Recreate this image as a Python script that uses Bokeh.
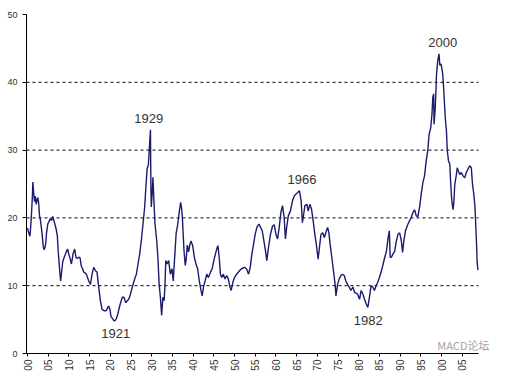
import math
from bokeh.plotting import figure
from bokeh.models import Range1d, FixedTicker, Label, ColumnDataSource
from bokeh.core.properties import value
from bokeh.embed import file_html
from bokeh.resources import INLINE

# ---- data ----
years = [
    1900.0, 1900.3, 1900.6, 1900.8, 1901.0, 1901.2, 1901.3, 1901.5, 1901.7, 1901.9,
    1902.1, 1902.3, 1902.5, 1902.7, 1902.9, 1903.1, 1903.4, 1903.6, 1903.8, 1904.0,
    1904.2, 1904.4, 1904.6, 1904.9, 1905.2, 1905.5, 1905.8, 1906.1, 1906.3, 1906.6,
    1906.9, 1907.2, 1907.4, 1907.6, 1907.8, 1908.0, 1908.2, 1908.5, 1908.8, 1909.2,
    1909.5, 1909.7, 1910.0, 1910.3, 1910.6, 1910.8, 1911.0, 1911.4, 1911.7, 1912.0,
    1912.4, 1912.7, 1913.0, 1913.3, 1913.6, 1913.9, 1914.2, 1914.5, 1914.8, 1915.2,
    1915.6, 1916.0, 1916.4, 1916.8, 1917.2, 1917.6, 1918.0, 1918.3, 1918.6, 1919.0,
    1919.4, 1919.6, 1919.9, 1920.2, 1920.5, 1920.9, 1921.2, 1921.5, 1921.8, 1922.1,
    1922.4, 1922.9, 1923.3, 1923.7, 1924.2, 1924.6, 1924.9, 1925.4, 1926.0, 1926.3,
    1926.7, 1927.1, 1927.5, 1927.9, 1928.3, 1928.6, 1928.9, 1929.2, 1929.5, 1929.7,
    1929.8, 1929.9, 1930.1, 1930.3, 1930.5, 1930.8, 1931.2, 1931.5, 1931.8, 1932.1,
    1932.4, 1932.7, 1933.0, 1933.2, 1933.4, 1933.7, 1934.1, 1934.5, 1934.9, 1935.2,
    1935.5, 1935.9, 1936.3, 1936.7, 1937.0, 1937.2, 1937.4, 1937.8, 1938.1, 1938.3,
    1938.6, 1938.9, 1939.2, 1939.5, 1939.9, 1940.3, 1940.7, 1941.1, 1941.5, 1941.9,
    1942.2, 1942.5, 1942.9, 1943.3, 1943.7, 1944.2, 1944.6, 1945.0, 1945.4, 1945.8,
    1946.0, 1946.3, 1946.6, 1946.9, 1947.3, 1947.7, 1948.1, 1948.5, 1948.9, 1949.2,
    1949.6, 1950.0, 1950.5, 1951.2, 1951.7, 1952.4, 1952.9, 1953.4, 1953.8, 1954.2,
    1954.6, 1955.0, 1955.4, 1955.9, 1956.3, 1956.7, 1957.1, 1957.5, 1957.8, 1958.2,
    1958.7, 1959.2, 1959.6, 1960.0, 1960.4, 1960.8, 1961.2, 1961.6, 1962.0, 1962.3,
    1962.6, 1963.0, 1963.5, 1964.0, 1964.4, 1964.8, 1965.2, 1965.7, 1966.1, 1966.4,
    1966.7, 1967.0, 1967.5, 1967.8, 1968.2, 1968.6, 1969.0, 1969.4, 1969.8, 1970.2,
    1970.6, 1970.9, 1971.3, 1971.7, 1972.2, 1972.5, 1972.8, 1973.1, 1973.5, 1973.9,
    1974.3, 1974.5, 1974.9, 1975.3, 1975.7, 1976.1, 1976.5, 1976.9, 1977.3, 1977.7,
    1978.1, 1978.6, 1979.0, 1979.7, 1980.2, 1980.6, 1981.0, 1981.4, 1981.8, 1982.2,
    1982.6, 1983.0, 1983.4, 1983.8, 1984.2, 1984.6, 1985.0, 1985.5, 1985.9, 1986.3,
    1986.7, 1987.1, 1987.4, 1987.6, 1987.9, 1988.3, 1988.7, 1989.1, 1989.5, 1989.9,
    1990.3, 1990.6, 1990.9, 1991.3, 1991.9, 1992.3, 1992.7, 1993.1, 1993.5, 1993.9,
    1994.3, 1994.7, 1995.1, 1995.5, 1995.9, 1996.3, 1996.7, 1997.0, 1997.4, 1997.7,
    1997.9, 1998.1, 1998.2, 1998.5, 1998.8, 1999.1, 1999.4, 1999.6, 1999.9, 2000.3,
    2000.6, 2000.9, 2001.2, 2001.4, 2001.7, 2002.0, 2002.2, 2002.4, 2002.6, 2002.8,
    2003.0, 2003.2, 2003.6, 2003.8, 2004.1, 2004.4, 2004.8, 2005.2, 2005.6, 2006.0,
    2006.4, 2006.8, 2007.2, 2007.5, 2007.8, 2008.1, 2008.3, 2008.5, 2008.6, 2008.8,
]
pe_ratio = [
    18.5, 17.8, 17.3, 19.0, 21.0, 23.5, 25.3, 23.6, 22.4, 23.2,
    22.0, 22.6, 23.0, 22.2, 20.3, 19.8, 18.3, 17.2, 15.8, 15.3,
    15.6, 16.2, 17.8, 19.1, 19.5, 19.9, 19.6, 20.2, 19.8, 19.1,
    18.4, 17.4, 15.2, 13.7, 12.0, 10.7, 11.8, 13.5, 14.1, 14.7,
    15.2, 15.4, 14.6, 14.0, 13.2, 13.9, 14.7, 15.4, 14.2, 14.0,
    14.2, 14.1, 12.9, 12.5, 12.0, 11.9, 11.7, 11.2, 10.7, 10.2,
    11.7, 12.7, 12.2, 12.0, 9.8, 7.8, 6.5, 6.4, 6.3, 6.3,
    6.8, 7.0, 6.5, 5.4, 5.2, 4.8, 4.9, 5.2, 5.8, 6.6,
    7.3, 8.3, 8.3, 7.5, 7.8, 8.2, 8.8, 10.0, 11.2, 11.7,
    13.2, 14.7, 16.7, 19.1, 21.6, 24.6, 27.3, 27.8, 31.0, 33.0,
    25.0, 21.6, 23.5, 26.0, 23.0, 19.1, 16.7, 14.2, 10.2, 8.3,
    5.6, 8.3, 7.8, 10.0, 13.7, 13.2, 13.7, 11.7, 12.5, 10.7,
    13.7, 17.7, 19.1, 21.1, 22.3, 21.5, 20.1, 15.2, 13.0, 13.7,
    16.0, 15.0, 16.0, 16.6, 15.9, 14.2, 13.2, 12.5, 10.7, 9.3,
    8.5, 9.8, 10.7, 11.7, 11.2, 12.0, 12.5, 13.7, 14.7, 15.6,
    15.9, 14.2, 11.7, 11.2, 11.7, 11.0, 11.5, 11.0, 9.8, 9.3,
    10.5, 11.2, 11.7, 12.2, 12.5, 12.7, 12.5, 11.7, 12.7, 14.7,
    16.1, 17.6, 18.6, 19.1, 18.6, 18.1, 16.6, 15.1, 13.7, 15.6,
    17.6, 18.8, 19.0, 17.6, 16.9, 18.6, 20.8, 21.8, 20.0, 16.9,
    18.6, 20.3, 21.0, 22.5, 23.2, 23.5, 23.7, 24.0, 22.5, 19.3,
    20.5, 21.8, 22.0, 21.0, 22.0, 21.3, 19.6, 17.6, 15.9, 13.9,
    16.1, 17.6, 17.8, 17.1, 18.1, 18.6, 17.8, 16.1, 14.2, 12.2,
    10.2, 8.5, 10.2, 11.0, 11.5, 11.7, 11.5, 10.7, 10.2, 9.8,
    9.3, 9.8, 9.0, 8.8, 8.0, 9.3, 8.8, 8.0, 7.3, 6.8,
    8.3, 10.0, 9.8, 9.3, 10.0, 10.5, 11.2, 12.2, 13.2, 14.2,
    15.1, 17.1, 18.1, 14.2, 14.2, 14.7, 15.1, 16.6, 17.6, 17.8,
    16.6, 14.9, 16.6, 18.1, 19.1, 19.6, 20.1, 20.8, 21.2, 20.3,
    20.2, 21.6, 23.5, 25.2, 26.2, 28.4, 30.0, 32.3, 33.3, 35.3,
    37.8, 38.3, 33.8, 36.3, 41.2, 43.2, 44.2, 42.5, 42.7, 41.2,
    38.3, 34.8, 32.8, 29.9, 28.4, 27.9, 25.4, 23.2, 22.0, 21.2,
    22.5, 24.9, 26.4, 27.4, 26.9, 26.4, 26.7, 26.2, 25.9, 26.7,
    27.2, 27.7, 27.4, 24.9, 23.5, 21.5, 18.5, 15.6, 13.6, 12.3,
]

tick_years = [1900, 1905, 1910, 1915, 1920, 1925, 1930, 1935, 1940, 1945, 1950,
              1955, 1960, 1965, 1970, 1975, 1980, 1985, 1990, 1995, 2000, 2005]
tick_labels = ["00", "05", "10", "15", "20", "25", "30", "35", "40", "45", "50",
               "55", "60", "65", "70", "75", "80", "85", "90", "95", "00", "05"]
y_ticks = [0, 10, 20, 30, 40, 50]
grid_levels = [10, 20, 30, 40]

note_years = [1921, 1929, 1966, 1982, 2000]
note_kind = ["low", "high", "high", "low", "high"]
watermark = "MACD论坛"

# ---- figure ----
px_per_year = 4.14
x_start = 1900 - 1 / px_per_year
plot_end = x_start + 452 / px_per_year      # right edge of the plotting area
x_end = x_start + 480 / px_per_year         # canvas room for the watermark

p = figure(width=508, height=376, output_backend="svg", toolbar_location=None,
           x_range=Range1d(x_start, x_end), y_range=Range1d(0, 50),
           min_border_left=26, min_border_right=2, min_border_top=14,
           min_border_bottom=23)
p.outline_line_color = None
p.background_fill_color = "white"
p.border_fill_color = "white"

# dashed horizontal gridlines limited to the plotting area
n = len(grid_levels)
p.segment(x0=[x_start] * n, y0=grid_levels, x1=[plot_end] * n, y1=grid_levels,
          line_color="black", line_dash="3 3", line_width=1)

src = ColumnDataSource(dict(x=years, y=pe_ratio))
p.line("x", "y", source=src, line_color="#1b1b6e", line_width=1.4)

# axes
p.xaxis.ticker = FixedTicker(ticks=tick_years)
p.xaxis.bounds = (x_start, plot_end)
p.xaxis.major_label_overrides = {y: l for y, l in zip(tick_years, tick_labels)}
p.xaxis.major_label_orientation = math.pi / 2
p.xaxis.major_label_text_font = "Liberation Sans"
p.xaxis.major_label_text_font_size = "10px"
p.xaxis.major_label_text_color = "#333333"
p.xaxis.major_tick_out = 3
p.xaxis.major_tick_in = 0
p.xaxis.minor_tick_line_color = None
p.xaxis.major_label_standoff = 3
p.xaxis.axis_line_color = "black"

p.yaxis.ticker = FixedTicker(ticks=y_ticks)
p.yaxis.major_label_text_font = "Liberation Sans"
p.yaxis.major_label_text_font_size = "9px"
p.yaxis.major_label_text_color = "#333333"
p.yaxis.major_tick_out = 4
p.yaxis.major_tick_in = 0
p.yaxis.minor_tick_line_color = None
p.yaxis.major_label_standoff = 5
p.yaxis.axis_line_color = "black"

p.xgrid.grid_line_color = None
p.ygrid.grid_line_color = None

# annotations placed relative to local extremes of the series
nx, ny = [], []
for yr, kind in zip(note_years, note_kind):
    window = [(v, x) for x, v in zip(years, pe_ratio) if abs(x - yr) <= 1.5]
    if kind == "high":
        v, _ = max(window)
        ny.append(v + 1.6)
    else:
        v, _ = min(window)
        ny.append(v - 1.9)
    nx.append(yr + 0.3)
p.text(x=nx, y=ny, text=[str(y) for y in note_years],
       text_font=value("Liberation Sans"), text_font_size="13px",
       text_color="#333333", text_align="center", text_baseline="middle")

p.add_layout(Label(x=1999.0, y=0, y_offset=1, text=watermark,
                   text_font="Noto Sans CJK SC", text_font_size="11px",
                   text_color="#a4a4a4", text_align="left",
                   text_baseline="bottom"))

open("out.html", "w").write(file_html(p, INLINE))
